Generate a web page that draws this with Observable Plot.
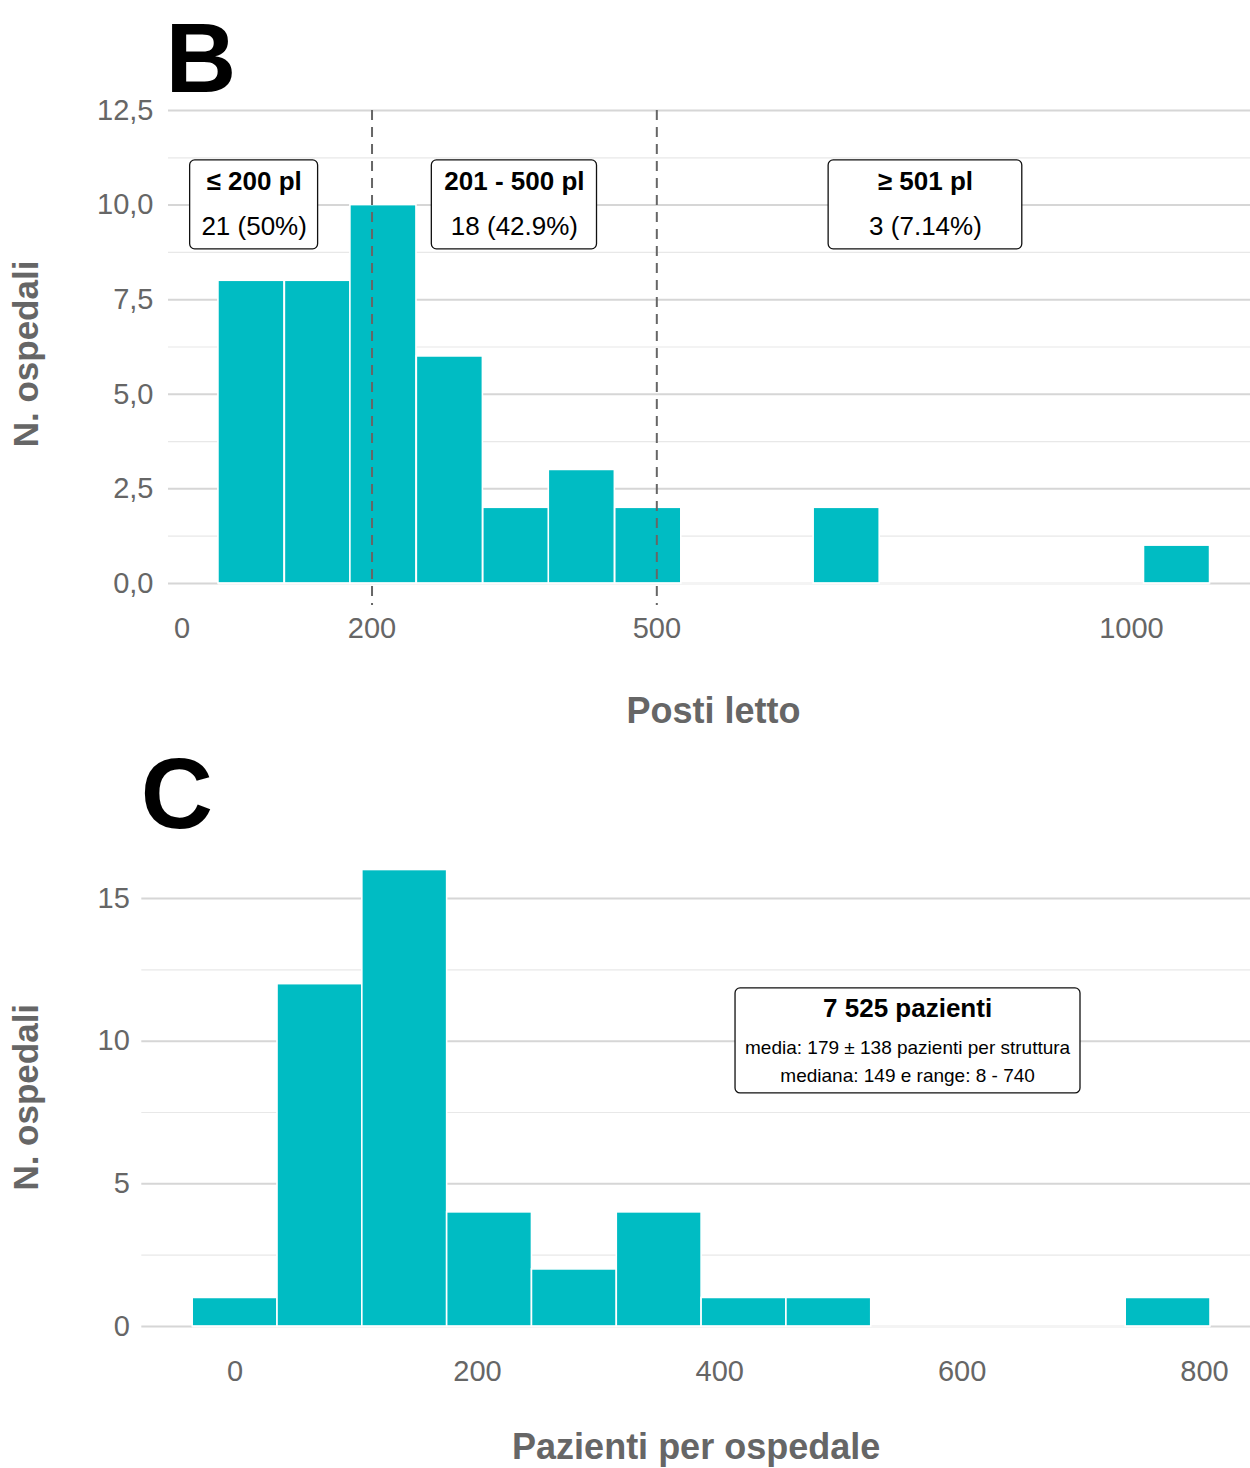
<!DOCTYPE html>
<html>
<head>
<meta charset="utf-8">
<script src="https://cdn.jsdelivr.net/npm/d3@7"></script>
<script src="https://cdn.jsdelivr.net/npm/@observablehq/plot@0.6"></script>
<style>
  body { margin: 0; background: #fff; }
  #page { position: relative; width: 1250px; height: 1468px; overflow: hidden; background: #fff; }
  #page svg { display: block; }
</style>
</head>
<body>
<div id="page"></div>
<script>
// ---------- Panel B: posti letto ----------
const bedBinCenters = [73, 143, 212, 282, 352, 421, 491, 560, 630, 700, 769, 839, 908, 978, 1048];
const bedCounts     = [8, 8, 10, 6, 2, 3, 2, 0, 0, 2, 0, 0, 0, 0, 1];
const bedBinWidth   = 69.6;
const bedCutoffs    = [200, 500];
const bedXTicks     = [0, 200, 500, 1000];
const bedYTicks     = [0, 2.5, 5, 7.5, 10, 12.5];
const bedYMinor     = [1.25, 3.75, 6.25, 8.75, 11.25];
const bedGroupTitles = ["≤ 200 pl", "201 - 500 pl", "≥ 501 pl"];
const bedGroupCounts = ["21 (50%)", "18 (42.9%)", "3 (7.14%)"];
// label boxes (data units)
const bedGroupBoxX1 = [8.4, 263, 681];
const bedGroupBoxX2 = [143.2, 437, 885];
const bedGroupBoxY  = [8.83, 11.18];
const bedGroupTextY = [10.61, 9.43];

// ---------- Panel C: pazienti per ospedale ----------
const patBinCenters = [0, 70, 140, 210, 280, 350, 420, 490, 560, 630, 700, 770];
const patCounts     = [1, 12, 16, 4, 2, 4, 1, 1, 0, 0, 0, 1];
const patBinWidth   = 70;
const patXTicks     = [0, 200, 400, 600, 800];
const patYTicks     = [0, 5, 10, 15];
const patYMinor     = [2.5, 7.5, 12.5];
const patTitle      = ["7 525 pazienti"];
const patDetails    = ["media: 179 ± 138 pazienti per struttura", "mediana: 149 e range: 8 - 740"];
const patTitleY     = 11.15;
const patDetailsY   = [9.78, 8.80];
const patSummaryX   = 555;
const patBoxX       = [413, 697.7];
const patBoxY       = [8.17, 11.85];

const FONT = '"Liberation Sans", Arial, Helvetica, sans-serif';
const BAR = "#00BCC3";
const GREY = "#666666";
const commaFmt = d => d.toFixed(1).replace(".", ",");
const plainFmt = d => String(d);

const bedBins = bedBinCenters.map((c, i) => ({x1: c - bedBinWidth / 2, x2: c + bedBinWidth / 2, n: bedCounts[i]}));
const bedGroups = bedGroupTitles.map((t, i) => ({
  title: t, count: bedGroupCounts[i],
  x1: bedGroupBoxX1[i], x2: bedGroupBoxX2[i], x: (bedGroupBoxX1[i] + bedGroupBoxX2[i]) / 2
}));

const patBins = patBinCenters.map((c, i) => ({x1: c - patBinWidth / 2, x2: c + patBinWidth / 2, n: patCounts[i]}));
const patDetailRows = patDetails.map((t, i) => ({text: t, y: patDetailsY[i]}));

const plotB = Plot.plot({
  width: 1250, height: 740,
  marginLeft: 168, marginRight: 0, marginTop: 110, marginBottom: 135.1,
  x: {domain: [-14.4, 1125.4]},
  y: {domain: [-0.58, 12.5]},
  style: {fontFamily: FONT, overflow: "visible", background: "white"},
  marks: [
    Plot.ruleY(bedYMinor, {stroke: "#e8e8e8", strokeWidth: 1.2}),
    Plot.ruleY(bedYTicks, {stroke: "#d6d6d6", strokeWidth: 2}),
    Plot.ruleY([0], {x1: d3.min(bedBins, d => d.x1), x2: d3.max(bedBins, d => d.x2), stroke: "#f4f4f4", strokeWidth: 3}),
    Plot.rect(bedBins.filter(d => d.n > 0), {x1: "x1", x2: "x2", y1: 0, y2: "n", fill: BAR, stroke: "white", strokeWidth: 1.6}),
    Plot.ruleX(bedCutoffs, {stroke: GREY, strokeWidth: 2, strokeDasharray: "10,7"}),
    Plot.rect(bedGroups, {x1: "x1", x2: "x2", y1: bedGroupBoxY[0], y2: bedGroupBoxY[1], fill: "white", stroke: "#111", strokeWidth: 1.3, rx: 5}),
    Plot.text(bedGroups, {x: "x", y: bedGroupTextY[0], text: "title", fontSize: 26, fontWeight: "bold", fill: "black"}),
    Plot.text(bedGroups, {x: "x", y: bedGroupTextY[1], text: "count", fontSize: 26, fill: "black"}),
    Plot.axisY(bedYTicks, {tickSize: 0, tickPadding: 15, fontSize: 29, color: GREY, tickFormat: commaFmt, label: null}),
    Plot.axisX(bedXTicks, {tickSize: 0, tickPadding: 12, fontSize: 29, color: GREY, tickFormat: plainFmt, label: null}),
    Plot.text(["Posti letto"], {frameAnchor: "bottom", dx: 4, dy: 118, fontSize: 36, fontWeight: "bold", fill: GREY}),
    Plot.text(["N. ospedali"], {frameAnchor: "left", textAnchor: "middle", rotate: -90, dx: -142, dy: -4, fontSize: 35, fontWeight: "bold", fill: GREY}),
    Plot.text(["B"], {frameAnchor: "top-left", textAnchor: "start", lineAnchor: "bottom", dx: -3, dy: -19, fontSize: 98, fontWeight: "bold", fill: "black"})
  ]
});

const plotC = Plot.plot({
  width: 1250, height: 728,
  marginLeft: 141.3, marginRight: 0, marginTop: 106.7, marginBottom: 119.2,
  x: {domain: [-77, 838]},
  y: {domain: [-0.8, 16.8]},
  style: {fontFamily: FONT, overflow: "visible", background: "white"},
  marks: [
    Plot.ruleY(patYMinor, {stroke: "#e8e8e8", strokeWidth: 1.2}),
    Plot.ruleY(patYTicks, {stroke: "#d6d6d6", strokeWidth: 2}),
    Plot.ruleY([0], {x1: d3.min(patBins, d => d.x1), x2: d3.max(patBins, d => d.x2), stroke: "#f4f4f4", strokeWidth: 3}),
    Plot.rect(patBins.filter(d => d.n > 0), {x1: "x1", x2: "x2", y1: 0, y2: "n", fill: BAR, stroke: "white", strokeWidth: 1.6}),
    Plot.rect([0], {x1: patBoxX[0], x2: patBoxX[1], y1: patBoxY[0], y2: patBoxY[1], fill: "white", stroke: "#111", strokeWidth: 1.3, rx: 5}),
    Plot.text(patTitle, {x: patSummaryX, y: patTitleY, fontSize: 26, fontWeight: "bold", fill: "black"}),
    Plot.text(patDetailRows, {x: patSummaryX, y: "y", text: "text", fontSize: 19, fill: "black"}),
    Plot.axisY(patYTicks, {tickSize: 0, tickPadding: 12, fontSize: 29, color: GREY, tickFormat: plainFmt, label: null}),
    Plot.axisX(patXTicks, {tickSize: 0, tickPadding: 11, fontSize: 29, color: GREY, tickFormat: plainFmt, label: null}),
    Plot.text(["Pazienti per ospedale"], {frameAnchor: "bottom", dy: 110, fontSize: 36, fontWeight: "bold", fill: GREY}),
    Plot.text(["N. ospedali"], {frameAnchor: "left", textAnchor: "middle", rotate: -90, dx: -115, dy: -1, fontSize: 35, fontWeight: "bold", fill: GREY}),
    Plot.text(["C"], {frameAnchor: "top-left", textAnchor: "start", lineAnchor: "bottom", dx: -1, dy: -19, fontSize: 100, fontWeight: "bold", fill: "black"})
  ]
});

const page = document.getElementById("page");
page.appendChild(plotB);
page.appendChild(plotC);
</script>
</body>
</html>
